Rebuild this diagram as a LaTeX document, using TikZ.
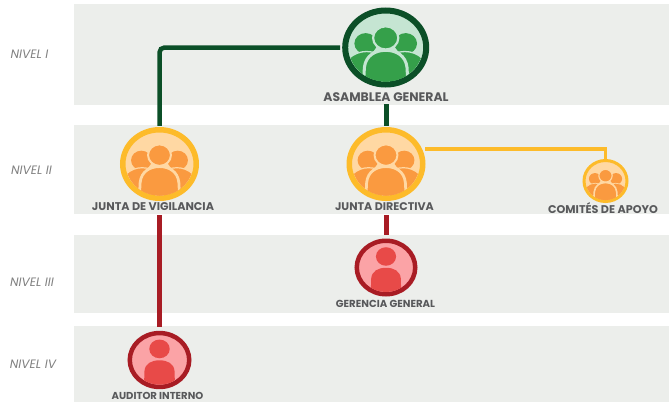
\documentclass[tikz,border=0pt]{standalone}
\usepackage{fontspec}
\setmainfont{Poppins}
\usetikzlibrary{shapes.geometric}
\definecolor{band}{HTML}{ECEEEB}
\definecolor{lbl}{HTML}{58595B}
\definecolor{lvl}{HTML}{808080}
\definecolor{gring}{HTML}{0B4F27}
\definecolor{gbg}{HTML}{C5E5D2}
\definecolor{gfg}{HTML}{35A04A}
\definecolor{oring}{HTML}{FDBB2A}
\definecolor{obg}{HTML}{FFD8A3}
\definecolor{ofg}{HTML}{FA9A40}
\definecolor{rring}{HTML}{A81C24}
\definecolor{rbg}{HTML}{FBA3A6}
\definecolor{rfg}{HTML}{E84A48}
\tikzset{
  bandbox/.style={fill=band,draw=none},
  lvltext/.style={font=\fontsize{12.2}{14}\selectfont\itshape,text=lvl,inner sep=0pt},
  roletext/.style={text=lbl,inner sep=0pt,font=\bfseries},
  ringnode/.style={ellipse,inner sep=0pt,outer sep=0pt},
  linkg/.style={draw=gring,line width=4.5pt},
  linko/.style={draw=oring,line width=3.5pt},
  linkr/.style={draw=rring,line width=5pt},
}
% name, x, y, rx, ry, ring width, ring, bg, fg
\newcommand{\ringshape}[9]{%
  \node[ringnode,draw=#7,fill=#8,line width=#6pt,minimum width=#4*2pt-#6pt,minimum height=#5*2pt-#6pt] (#1) at (#2,#3) {};
}
\newcommand{\groupicon}[9]{%
  \ringshape{#1}{#2}{#3}{#4}{#5}{#6}{#7}{#8}{#9}
  \begin{scope}[shift={(#2,#3)},x=#4pt,y=-#5pt]
    \clip (0,0) circle (1-#6/#5);
    \foreach \s in {-1,1}{
      \fill[#9] (\s*.46,-.1) circle (.26);
      \fill[#9,draw=#8,line width=.03*#4pt] (\s*.44,.66) circle (.56);
    }
    \fill[#9,draw=#8,line width=.05*#4pt] (0,-.24) circle (.29);
    \fill[#9,draw=#8,line width=.07*#4pt] (-.52,1.1) -- (-.49,.5) .. controls (-.46,.2) and (-.24,.07) .. (0,.07) .. controls (.24,.07) and (.46,.2) .. (.49,.5) -- (.52,1.1) -- cycle;
  \end{scope}
}
\newcommand{\soloicon}[9]{%
  \ringshape{#1}{#2}{#3}{#4}{#5}{#6}{#7}{#8}{#9}
  \begin{scope}[shift={(#2,#3)},x=#4pt,y=-#5pt]
    \clip (0,0) circle (1-#6/#5);
    \fill[#9] (0,-.38) circle (.32);
    \fill[#9] (-.49,1.1) -- (-.47,.38) .. controls (-.45,.12) and (-.25,.01) .. (0,.01) .. controls (.25,.01) and (.45,.12) .. (.47,.38) -- (.49,1.1) -- cycle;
  \end{scope}
}
\begin{document}
\begin{tikzpicture}[x=1pt,y=-1pt]
\useasboundingbox (0,0) rectangle (669,402);
\fill[bandbox] (74,4) rectangle (669,105);
\fill[bandbox] (74,125) rectangle (669,214);
\fill[bandbox] (74,235) rectangle (669,313);
\fill[bandbox] (74,326) rectangle (669,402);
\node[lvltext] (n1) at (29.5,54) {NIVEL I};
\node[lvltext] (n2) at (31.5,170) {NIVEL II};
\node[lvltext] (n3) at (32,282) {NIVEL III};
\node[lvltext] (n4) at (33,364) {NIVEL IV};

\groupicon{asamblea}{385.7}{47.5}{43.5}{40}{6}{gring}{gbg}{gfg}
\groupicon{vigilancia}{159.5}{164}{39.5}{37}{5.5}{oring}{obg}{ofg}
\groupicon{directiva}{386}{164}{39.5}{37}{5.5}{oring}{obg}{ofg}
\groupicon{comites}{605.5}{181}{23}{22}{3}{oring}{obg}{ofg}
\soloicon{gerencia}{386}{267.5}{31.5}{29}{4.5}{rring}{rbg}{rfg}
\soloicon{auditor}{159.5}{360}{32}{29.2}{4.5}{rring}{rbg}{rfg}

\node[roletext,font=\fontsize{12.4}{14}\bfseries\selectfont] (lasamblea) at (386,97) {ASAMBLEA GENERAL};
\node[roletext,font=\fontsize{11.2}{13}\bfseries\selectfont] (lvigilancia) at (153,207) {JUNTA DE VIGILANCIA};
\node[roletext,font=\fontsize{11.1}{13}\bfseries\selectfont] (ldirectiva) at (384.5,207) {JUNTA DIRECTIVA};
\node[roletext,font=\fontsize{11.2}{13}\bfseries\selectfont] (lcomites) at (603,208) {COMITÉS DE APOYO};
\node[roletext,font=\fontsize{10.2}{12}\bfseries\selectfont] (lgerencia) at (385.5,304) {GERENCIA GENERAL};
\node[roletext,font=\fontsize{10.1}{12}\bfseries\selectfont] (lauditor) at (157.5,395.5) {AUDITOR INTERNO};

\draw[linkg,rounded corners=5pt] ([xshift=-5pt]asamblea.west) -| ([yshift=4pt]vigilancia.north);
\draw[linkg,line width=5pt] ([yshift=-19.5pt]asamblea.south -| directiva.north) -- ([yshift=4pt]directiva.north);
\draw[linko] ([xshift=6pt]directiva.24) -| ([yshift=2pt]comites.north);
\draw[linkr] ([yshift=-17pt]vigilancia.south) -- ([yshift=6pt]auditor.north);
\draw[linkr] ([yshift=-17pt]directiva.south) -- ([yshift=6pt]gerencia.north);
\end{tikzpicture}
\end{document}
